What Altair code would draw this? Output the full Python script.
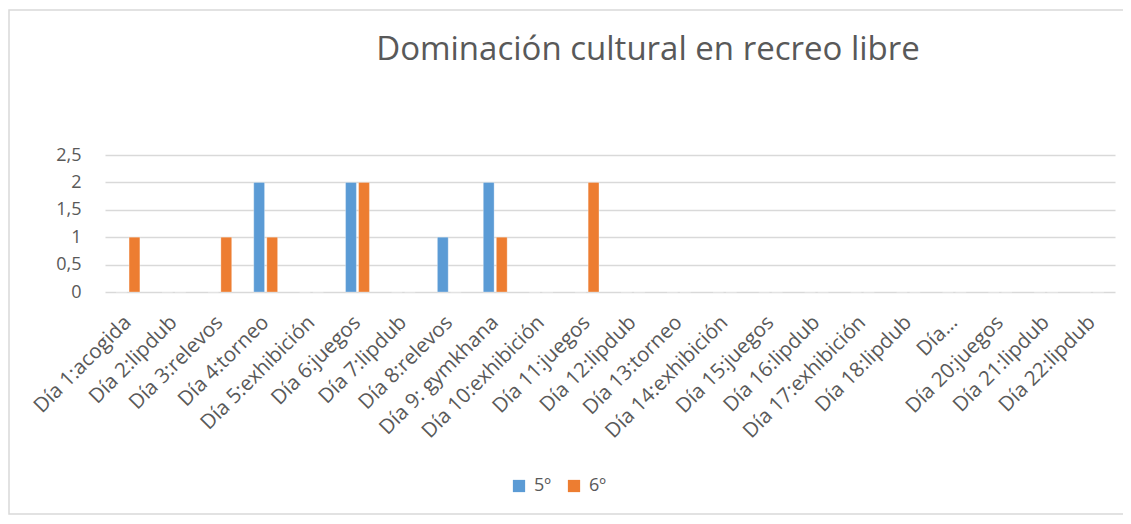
import altair as alt
import pandas as pd

days = ["Día 1:acogida", "Día 2:lipdub", "Día 3:relevos", "Día 4:torneo",
        "Día 5:exhibición", "Día 6:juegos", "Día 7:lipdub", "Día 8:relevos",
        "Día 9: gymkhana", "Día 10:exhibición", "Día 11:juegos", "Día 12:lipdub",
        "Día 13:torneo", "Día 14:exhibición", "Día 15:juegos", "Día 16:lipdub",
        "Día 17:exhibición", "Día 18:lipdub", "Día…", "Día 20:juegos",
        "Día 21:lipdub", "Día 22:lipdub"]
g5 = [0, 0, 0, 2, 0, 2, 0, 1, 2, 0, 0, 0, 0, 0, 0, 0, 0, 0, 0, 0, 0, 0]
g6 = [1, 0, 1, 1, 0, 2, 0, 0, 1, 0, 2, 0, 0, 0, 0, 0, 0, 0, 0, 0, 0, 0]
series = ["5º", "6º"]
colors = ["#5B9BD5", "#ED7D31"]
y_ticks = [0, 0.5, 1, 1.5, 2, 2.5]
title_text = "Dominación cultural en recreo libre"

rows = []
for s, vals in zip(series, [g5, g6]):
    for d, v in zip(days, vals):
        rows.append({"day": d, "serie": s, "value": v})
df = pd.DataFrame(rows)

FONT = "Open Sans"
TXT = "#595959"

bars = alt.Chart(df).mark_bar(strokeWidth=1, stroke="white", strokeOpacity=0.3).encode(
    x=alt.X("day:N", sort=days, title=None,
            scale=alt.Scale(paddingInner=0.48, paddingOuter=0.24),
            axis=alt.Axis(labelAngle=-45, labelAlign="right", labelBaseline="middle",
                          labelFontSize=20.5, labelFont=FONT, labelColor=TXT,
                          ticks=False, domain=False, labelPadding=27,
                          labelOverlap=False, labelLimit=300)),
    xOffset=alt.XOffset("serie:N", sort=series,
                        scale=alt.Scale(paddingInner=0.17, paddingOuter=0)),
    y=alt.Y("value:Q", title=None,
            scale=alt.Scale(domain=[0, 2.5], nice=False),
            axis=alt.Axis(values=y_ticks,
                          labelExpr="replace(format(datum.value, '~g'), '.', ',')",
                          labelFontSize=18, labelFont=FONT, labelColor=TXT,
                          ticks=False, domain=False, labelPadding=24,
                          gridColor="#d9d9d9", gridWidth=1.5)),
    color=alt.Color("serie:N", sort=series,
                    scale=alt.Scale(domain=series, range=colors),
                    legend=alt.Legend(title=None, orient="none", legendX=405, legendY=322,
                                      direction="horizontal", symbolType="square",
                                      symbolSize=150, symbolStrokeWidth=0,
                                      labelFontSize=18, labelFont=FONT, labelColor=TXT,
                                      columnPadding=13, labelOffset=6)),
)

frame = alt.Chart(pd.DataFrame({"k": [0]})).mark_rect(
    fill=None, stroke="#d9d9d9", strokeWidth=1.5).encode(
    x=alt.value(-96), x2=alt.value(1040), y=alt.value(-145), y2=alt.value(359))

chart = alt.layer(frame, bars).properties(
    width=1010, height=137,
    padding={"left": 97, "top": 147, "right": 8, "bottom": 224},
    autosize=alt.AutoSizeParams(type="none"),
    title=alt.Title(title_text, font=FONT, fontSize=33, fontWeight="normal",
                    color=TXT, anchor="middle", dx=38, offset=-84,
                    baseline="alphabetic"),
).configure_view(stroke=None)

chart.save("out.html", embed_options={"renderer": "svg", "actions": False})
